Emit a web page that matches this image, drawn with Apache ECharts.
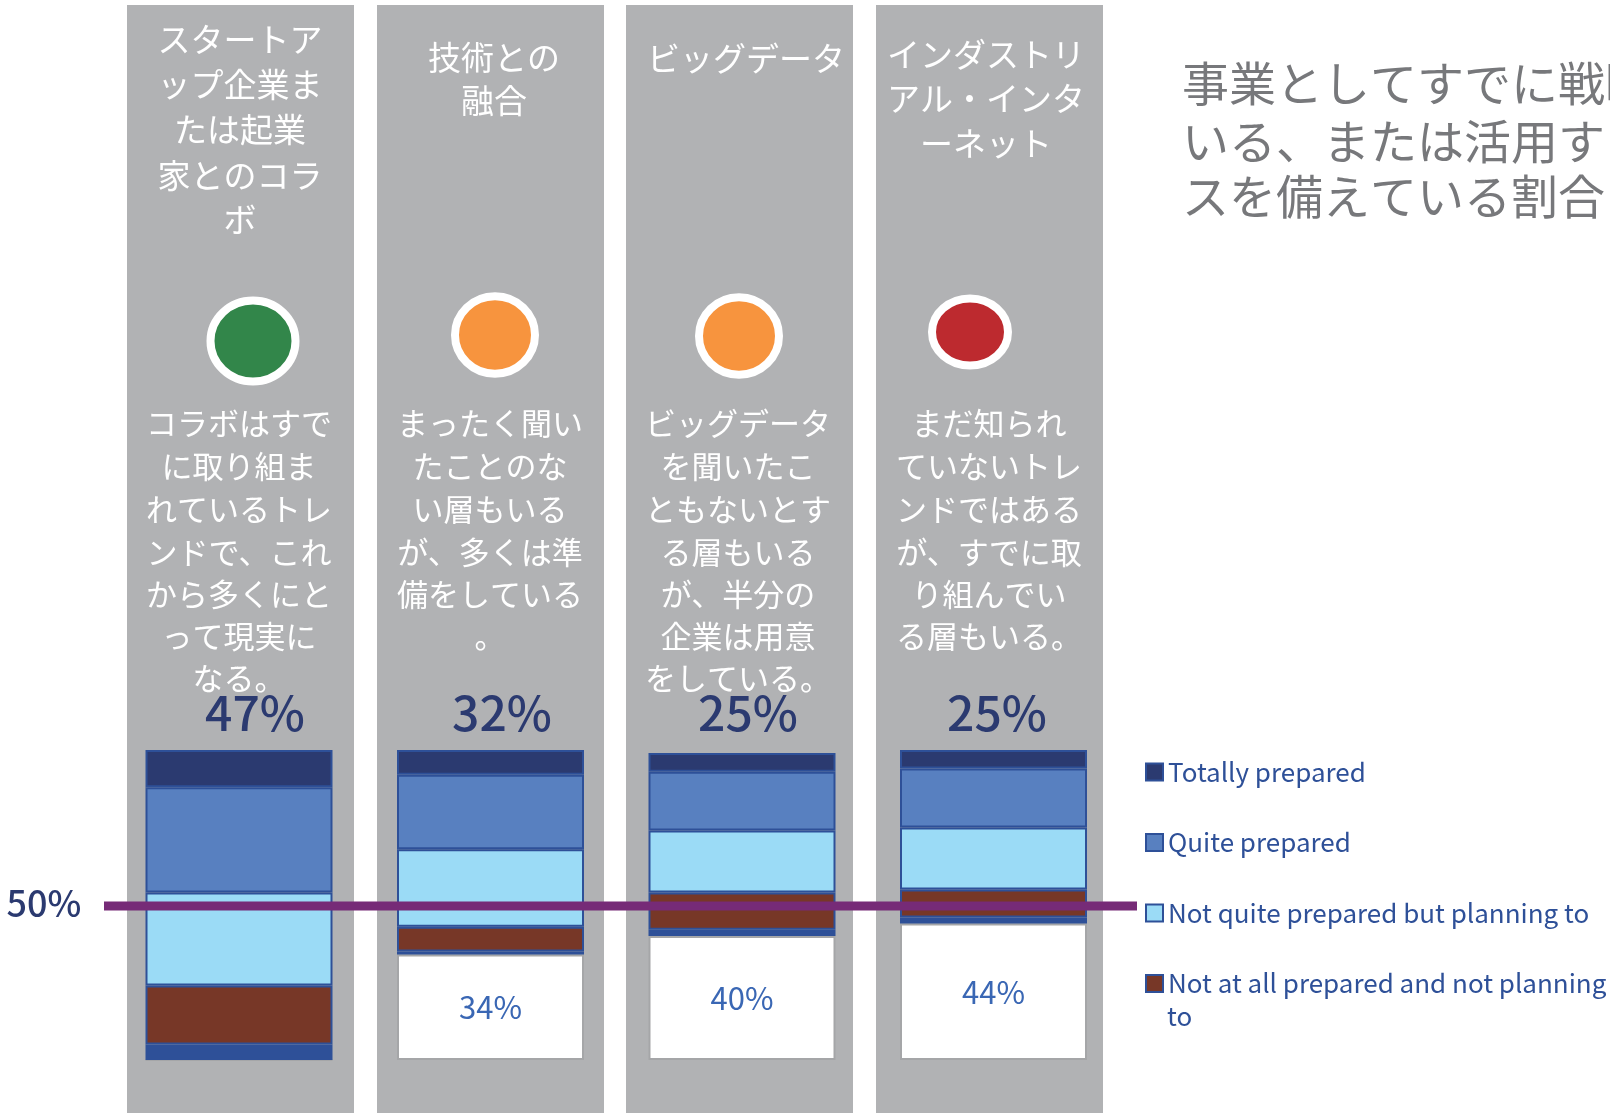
<!DOCTYPE html>
<html lang="ja"><head><meta charset="utf-8">
<style>html,body{margin:0;padding:0;background:#fff;overflow:hidden}#c{width:1610px;height:1113px}</style>
<script src="https://cdn.jsdelivr.net/npm/echarts@6/dist/echarts.min.js"></script>
</head><body><div id="c"></div>
<script>
const categories = ['スタートアップ企業または起業家とのコラボ','技術との融合','ビッグデータ','インダストリアル・インターネット'];
const totallyPrepared = [12, 8, 6, 6];
const quitePrepared = [34, 24, 19, 19];
const notQuitePrepared = [30, 25, 20, 20];
const notAtAllPrepared = [19, 8, 12, 9];
const otherAnswer = [5, 1, 2, 2];
const neverHeard = [0, 34, 40, 44];
const threshold = [50];
const headline = ['47%', '32%', '25%', '25%'];
const headerLines = [
  ['スタートア','ップ企業ま','たは起業','家とのコラ','ボ'],
  ['技術との','融合'],
  ['ビッグデータ'],
  ['インダストリ','アル・インタ','ーネット']
];
const bodyLines = [
  ['コラボはすで','に取り組ま','れているトレ','ンドで、これ','から多くにと','って現実に','なる。'],
  ['まったく聞い','たことのな','い層もいる','が、多くは準','備をしている','。'],
  ['ビッグデータ','を聞いたこ','ともないとす','る層もいる','が、半分の','企業は用意','をしている。'],
  ['まだ知られ','ていないトレ','ンドではある','が、すでに取','り組んでい','る層もいる。']
];
const titleLines = ['事業としてすでに戦略を','いる、または活用するプロセ','スを備えている割合'];
const names = ['Totally prepared','Quite prepared','Not quite prepared but planning to','Not at all prepared and not planning to'];
const statusColors = ['#32864a','#f7943e','#f7943e','#bd2a2f'];

const JP = '"Noto Sans CJK JP","Noto Sans",sans-serif';
const panelX = [127,377,626,876];
const headerCx = [240,494,746,986];
const headerY = [[39,84,129,175,219],[57.5,100.6],[58.5],[54.5,98.6,143.8]];
const bodyCx = [239,490,738,989];
const bodyY = [423,466,509,552,594.5,636.6,678.7];
const pctCx = [255,502,748,997];
const dots = [[253,341,42.5,40.5],[495,335,40,38.7],[739,336,40,38.7],[970,332,38,33.5]];

const g = [];
panelX.forEach(x => g.push({type:'rect',shape:{x:x,y:5,width:227,height:1108},style:{fill:'#b1b2b4'},z:0}));
const txt = (t,x,y,size,fill,w) => g.push({type:'text',z:1,style:{text:t,x:x,y:y,align:'center',verticalAlign:'middle',fill:fill,font:`${w} ${size}px ${JP}`}});
headerLines.forEach((ls,i)=>ls.forEach((l,j)=>txt(l,headerCx[i],headerY[i][j],33,'#fff',400)));
bodyLines.forEach((ls,i)=>ls.forEach((l,j)=>txt(l,bodyCx[i],bodyY[j],31,'#fff',400)));
headline.forEach((p,i)=>txt(p,pctCx[i],713,48,'#2b3a70',500));
dots.forEach((d,i)=>g.push({type:'ellipse',z:1,shape:{cx:d[0],cy:d[1],rx:d[2],ry:d[3]},style:{fill:statusColors[i],stroke:'#fff',lineWidth:8}}));
titleLines.forEach((l,j)=>g.push({type:'text',z:1,style:{text:l,x:1182,y:[83,141,196][j],align:'left',verticalAlign:'middle',fill:'#77787b',font:`400 47px ${JP}`}}));
g.push({type:'text',z:1,style:{text:'to',x:1167,y:1016,align:'left',verticalAlign:'middle',fill:'#2e5098',font:`26px ${JP}`}});

const border='#2e5098';
const mk=(name,data,color,extra)=>Object.assign({name:name,type:'bar',stack:'t',data:data,barWidth:187,itemStyle:{color:color,borderColor:border,borderWidth:2}},extra||{});
const chart=echarts.init(document.getElementById('c'),null,{renderer:'canvas'});
chart.setOption({
  animation:false,
  graphic:{elements:g},
  grid:{left:113.25,width:1006,top:750,height:310},
  xAxis:{type:'category',data:categories,show:false},
  yAxis:{type:'value',min:0,max:100,show:false},
  legend:{orient:'vertical',left:1145,top:755,height:340,width:465,itemWidth:17,itemHeight:17,itemGap:36.5,icon:'rect',padding:0,
    data:names,selectedMode:false,
    formatter:n=>n===names[3]?'Not at all prepared and not planning':n,
    textStyle:{color:'#2e5098',fontSize:26,lineHeight:34,fontFamily:JP}},
  series:[
    mk('Never heard',neverHeard,'#fff',{itemStyle:{color:'#fff',borderColor:'#a5a6a8',borderWidth:2},
      label:{show:true,position:'inside',fontSize:31,color:'#3a67b4',fontFamily:JP,formatter:p=>p.value?p.value+'%':''}}),
    mk('Other',otherAnswer,'#2e5098'),
    mk(names[3],notAtAllPrepared,'#773727'),
    mk(names[2],notQuitePrepared,'#9bdbf6'),
    mk(names[1],quitePrepared,'#5880c0'),
    mk(names[0],totallyPrepared,'#2b3a70'),
    {type:'custom',name:'50%',z:10,silent:true,data:threshold.map(v=>[0,v]),encode:{x:0,y:1},clip:false,
      renderItem:(params,api)=>{
        const v=api.value(1),y=api.coord([0,v])[1];
        return {type:'group',children:[
          {type:'rect',shape:{x:104,y:y-3.5,width:1033,height:9},style:{fill:'#762b77'}},
          {type:'text',style:{text:v+'%',x:44,y:y-2,align:'center',verticalAlign:'middle',fill:'#2b3a70',font:`500 36px ${JP}`}}
        ]};
      }}
  ]
});
</script></body></html>
